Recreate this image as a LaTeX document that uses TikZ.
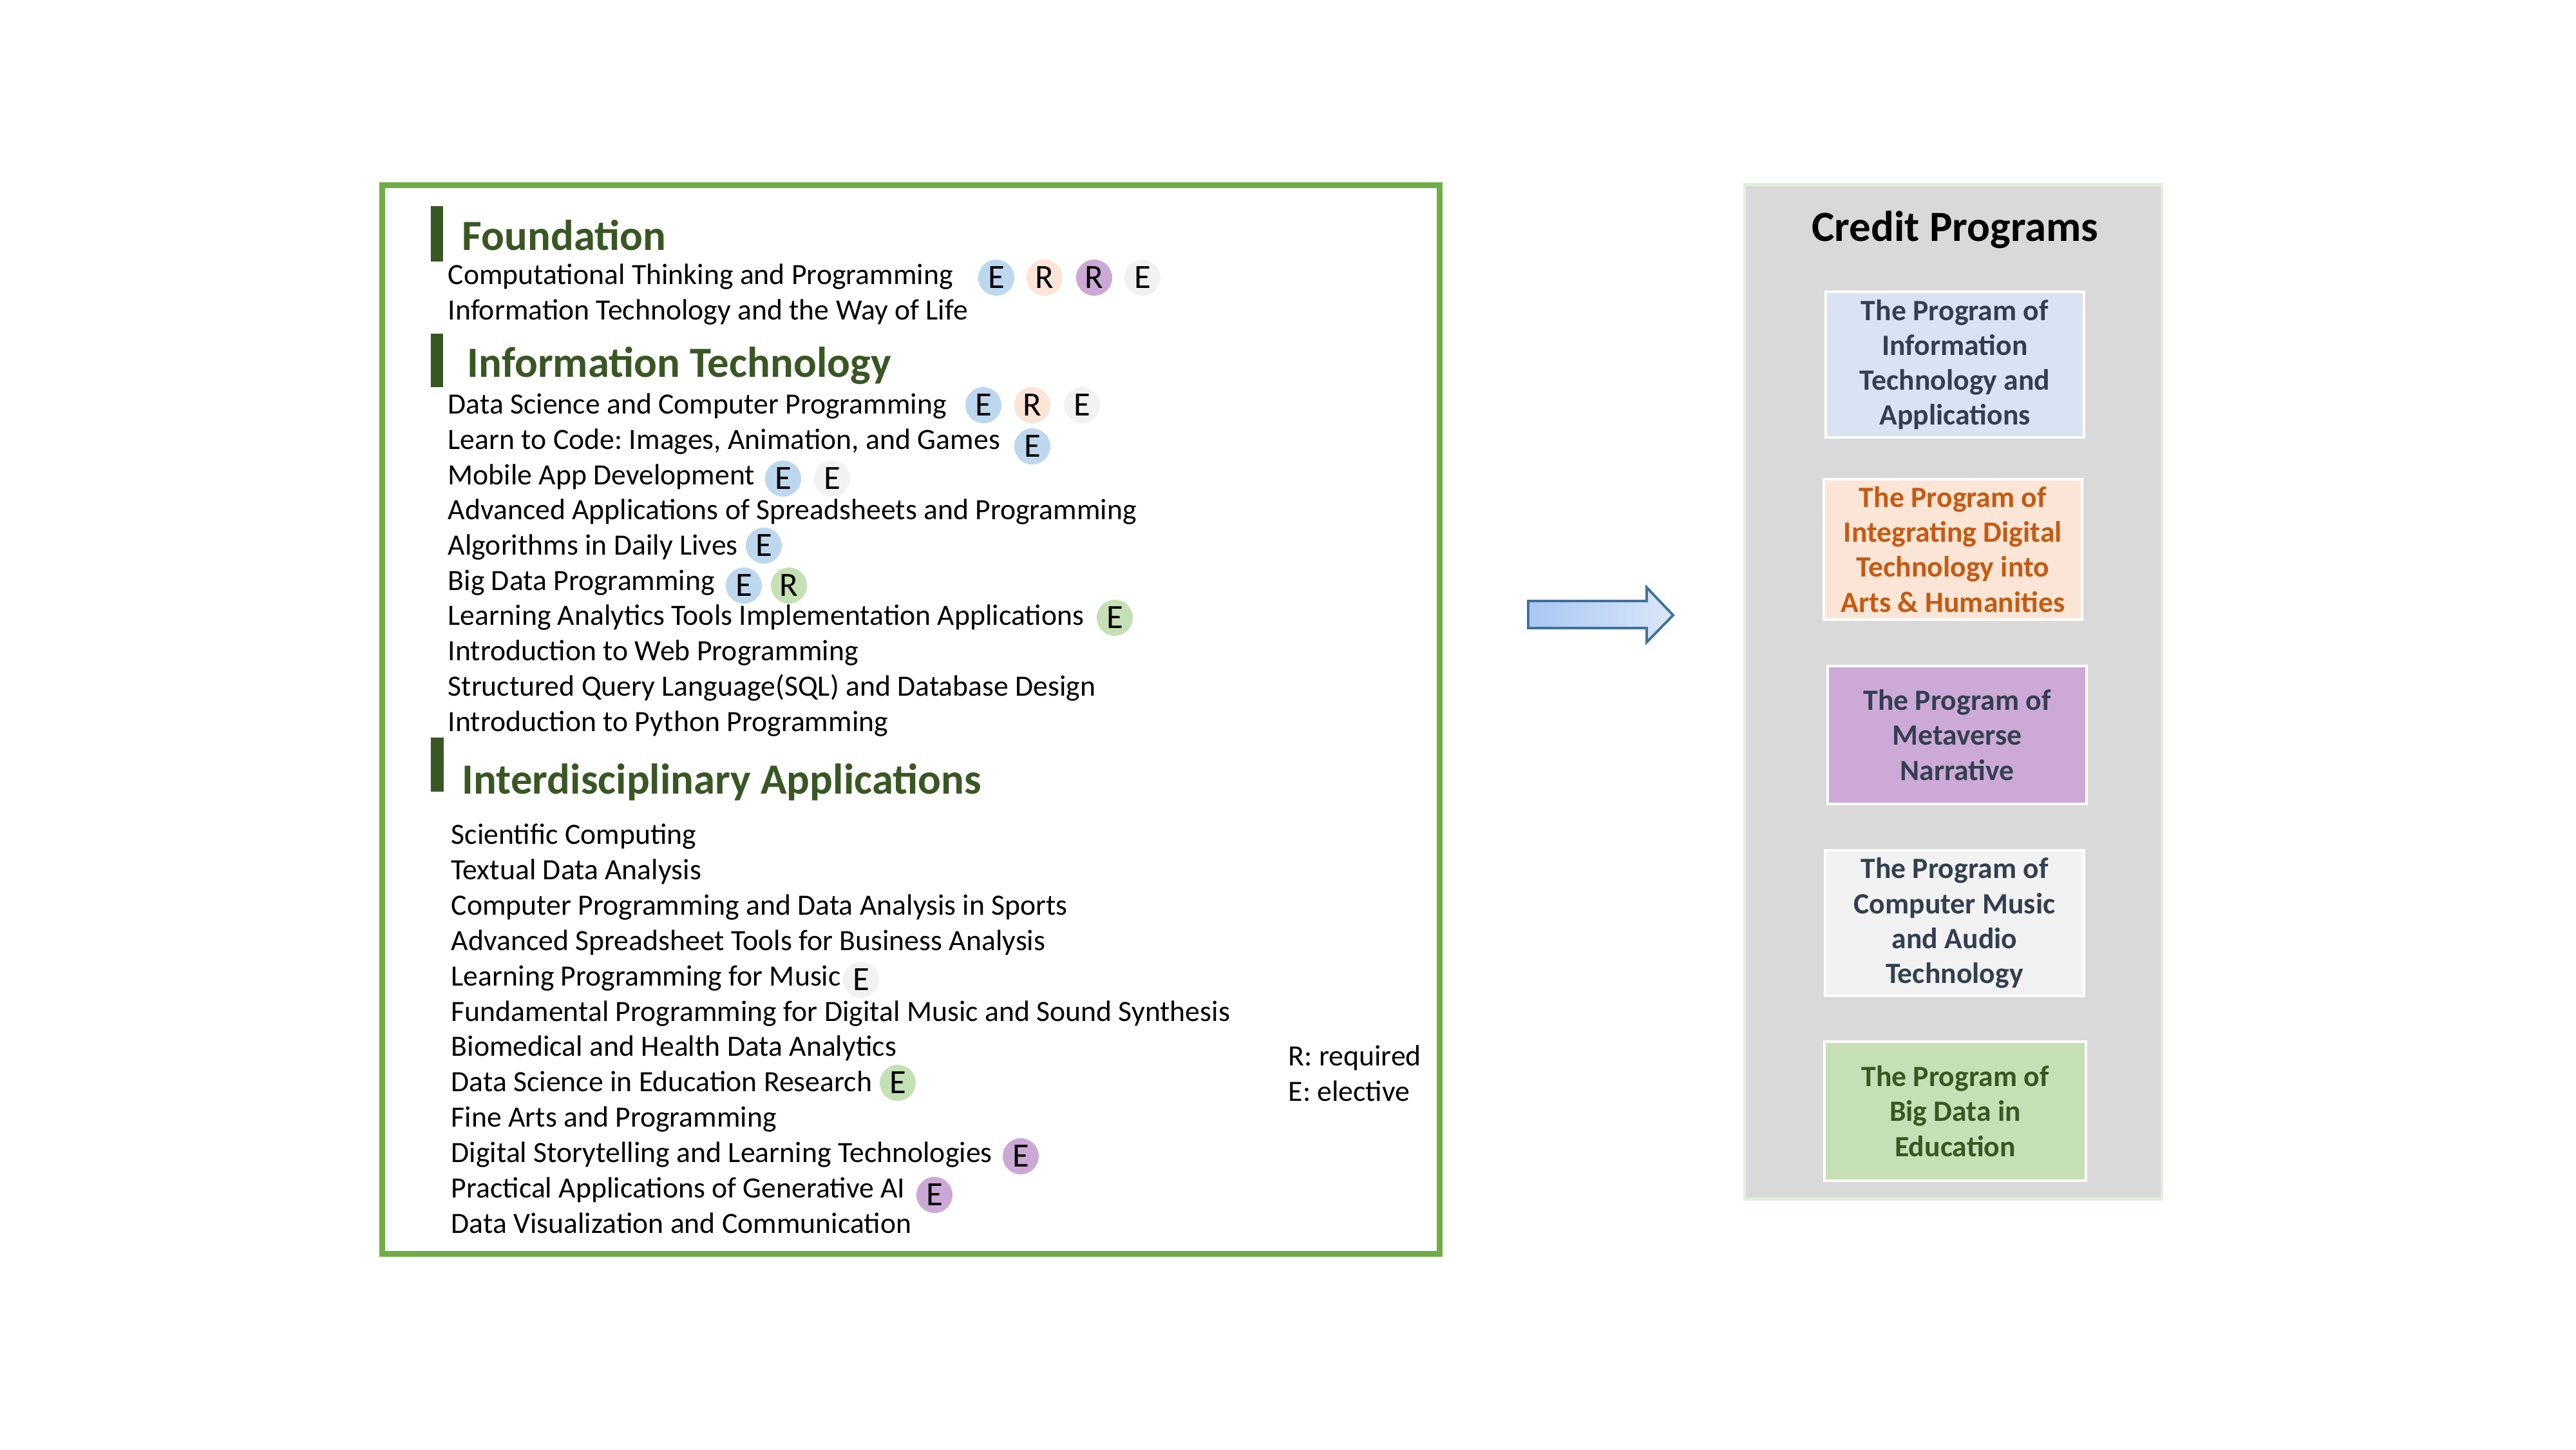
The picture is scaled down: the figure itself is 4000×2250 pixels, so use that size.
\documentclass[tikz,border=0pt]{standalone}
\usepackage{fontspec}
\setmainfont{Carlito}
\usepackage{tikz}
\frenchspacing

\definecolor{courseframe}{HTML}{70AD47}
\definecolor{headgreen}{HTML}{385723}
\definecolor{eblue}{HTML}{BDD7EE}
\definecolor{rpeach}{HTML}{FBE5D6}
\definecolor{mpurple}{HTML}{CBA8D6}
\definecolor{egrey}{HTML}{F2F2F2}
\definecolor{egreen}{HTML}{C5E0B4}
\definecolor{panelgrey}{HTML}{D9D9D9}
\definecolor{panelline}{HTML}{E2F0D9}
\definecolor{boxblue}{HTML}{DAE3F3}
\definecolor{boxpurple}{HTML}{CCA9D7}
\definecolor{navy}{HTML}{333F50}
\definecolor{orangetext}{HTML}{C55A11}
\definecolor{arrowline}{HTML}{41719C}
\definecolor{arrowleft}{HTML}{A9C7F3}
\definecolor{arrowright}{HTML}{DAE7F9}

\newcommand\coursefont{\fontsize{13pt}{15.6pt}\selectfont}
\newcommand\headfont{\fontsize{19pt}{22pt}\selectfont\bfseries}
\newcommand\titlefont{\fontsize{19pt}{23pt}\selectfont\bfseries}
\newcommand\progfont{\fontsize{13pt}{15.4pt}\selectfont\bfseries}
\newcommand\badgefont{\fontsize{15pt}{17pt}\selectfont}

\tikzset{
  course/.style={anchor=base west, inner sep=0pt, font=\coursefont},
  heading/.style={anchor=base west, inner sep=0pt, font=\headfont, text=headgreen},
  badge/.style={circle, minimum size=0.56cm, inner sep=0pt, font=\badgefont},
  program/.style={rectangle, draw=white, line width=1.1pt, minimum width=4.01cm,
    minimum height=2.14cm, align=center, font=\progfont, text=navy},
}

\begin{document}
\begin{tikzpicture}[x=0.01cm,y=-0.01cm]
\useasboundingbox (0,0) rectangle (4000,2250);

% course box
\node at (1414.5,1117)[rectangle,draw=courseframe,line width=2.6pt,minimum width=16.41cm,minimum height=16.58cm] (courses) {};

% Foundation
\fill[headgreen] (669,320) rectangle (688,406);
\node at (717,388)[heading] (foundation) {Foundation};
\node at (695,441)[course] (ct) {Computational Thinking and Programming};
\node at (695,496)[course] (itl) {Information Technology and the Way of Life};
\node at (1547,431)[badge,fill=eblue] (ctE1) {E};
\node at (1622,431)[badge,fill=rpeach] (ctR1) {R};
\node at (1699,431)[badge,fill=mpurple] (ctR2) {R};
\node at (1774,431)[badge,fill=egrey] (ctE2) {E};

% Information Technology
\fill[headgreen] (669,518) rectangle (688,601);
\node at (725,585)[heading] (infotech) {Information Technology};
\node at (695,642)[course] (dscp) {Data Science and Computer Programming};
\node at (695,697)[course] (ltc) {Learn to Code: Images, Animation, and Games};
\node at (695,752)[course] (mad) {Mobile App Development};
\node at (695,806)[course] (aasp) {Advanced Applications of Spreadsheets and Programming};
\node at (695,861)[course] (adl) {Algorithms in Daily Lives};
\node at (695,916)[course] (bdp) {Big Data Programming};
\node at (695,970)[course] (lati) {Learning Analytics Tools Implementation Applications};
\node at (695,1025)[course] (iwp) {Introduction to Web Programming};
\node at (695,1080)[course] (sql) {Structured Query Language(SQL) and Database Design};
\node at (695,1135)[course] (ipp) {Introduction to Python Programming};
\node at (1527,629)[badge,fill=eblue] (dscpE1) {E};
\node at (1603,629)[badge,fill=rpeach] (dscpR) {R};
\node at (1680,629)[badge,fill=egrey] (dscpE2) {E};
\node at (1603,693)[badge,fill=eblue] (ltcE) {E};
\node at (1216,743)[badge,fill=eblue] (madE1) {E};
\node at (1292,743)[badge,fill=egrey] (madE2) {E};
\node at (1186,847)[badge,fill=eblue] (adlE) {E};
\node at (1155,909)[badge,fill=eblue] (bdpE) {E};
\node at (1225,909)[badge,fill=egreen] (bdpR) {R};
\node at (1731,959)[badge,fill=egreen] (latiE) {E};

% Interdisciplinary Applications
\fill[headgreen] (669,1145) rectangle (689,1229);
\node at (717,1232)[heading] (interdisc) {Interdisciplinary Applications};
\node at (700,1310)[course] (sc) {Scientific Computing};
\node at (700,1365)[course] (tda) {Textual Data Analysis};
\node at (700,1420)[course] (cpda) {Computer Programming and Data Analysis in Sports};
\node at (700,1475)[course] (astb) {Advanced Spreadsheet Tools for Business Analysis};
\node at (700,1530)[course] (lpm) {Learning Programming for Music};
\node at (700,1585)[course] (fpdm) {Fundamental Programming for Digital Music and Sound Synthesis};
\node at (700,1639)[course] (bhda) {Biomedical and Health Data Analytics};
\node at (700,1694)[course] (dser) {Data Science in Education Research};
\node at (700,1749)[course] (fap) {Fine Arts and Programming};
\node at (700,1804)[course] (dslt) {Digital Storytelling and Learning Technologies};
\node at (700,1859)[course] (paga) {Practical Applications of Generative AI};
\node at (700,1914)[course] (dvc) {Data Visualization and Communication};
\node at (1337,1521)[badge,fill=egrey] (lpmE) {E};
\node at (1394,1681)[badge,fill=egreen] (dserE) {E};
\node at (1585,1795)[badge,fill=mpurple] (dsltE) {E};
\node at (1451,1855)[badge,fill=mpurple] (pagaE) {E};

% legend
\node at (2000,1654)[course] (legR) {R: required};
\node at (2000,1709)[course] (legE) {E: elective};

% arrow
\draw[left color=arrowleft,right color=arrowright,draw=arrowline,line width=1.1pt,line join=miter]
  (2373,933) -- (2557,933) -- (2557,912) -- (2598,955) -- (2557,997) -- (2557,975) -- (2373,975) -- cycle;

% credit programs
\node at (3033,1074)[rectangle,fill=panelgrey,draw=panelline,line width=1.2pt,minimum width=6.48cm,minimum height=15.74cm] (credits) {};
\node at (3036,374)[anchor=base,inner sep=0pt,font=\titlefont] (title) {Credit Programs};
\node at (3035.5,566)[program,fill=boxblue] (pita) {The Program of\\Information\\Technology and\\Applications};
\node at (3032.5,853)[program,fill=rpeach,text=orangetext] (pidt) {The Program of\\Integrating Digital\\Technology into\\Arts \& Humanities};
\node at (3039,1141)[program,fill=boxpurple] (pmn) {The Program of\\Metaverse\\Narrative};
\node at (3035,1433)[program,fill=egrey,minimum height=2.16cm] (pcma) {The Program of\\Computer Music\\and Audio\\Technology};
\node at (3036,1725)[program,fill=egreen,text=headgreen,minimum width=4.06cm,minimum height=2.16cm] (pbde) {The Program of\\Big Data in\\Education};
\end{tikzpicture}
\end{document}
